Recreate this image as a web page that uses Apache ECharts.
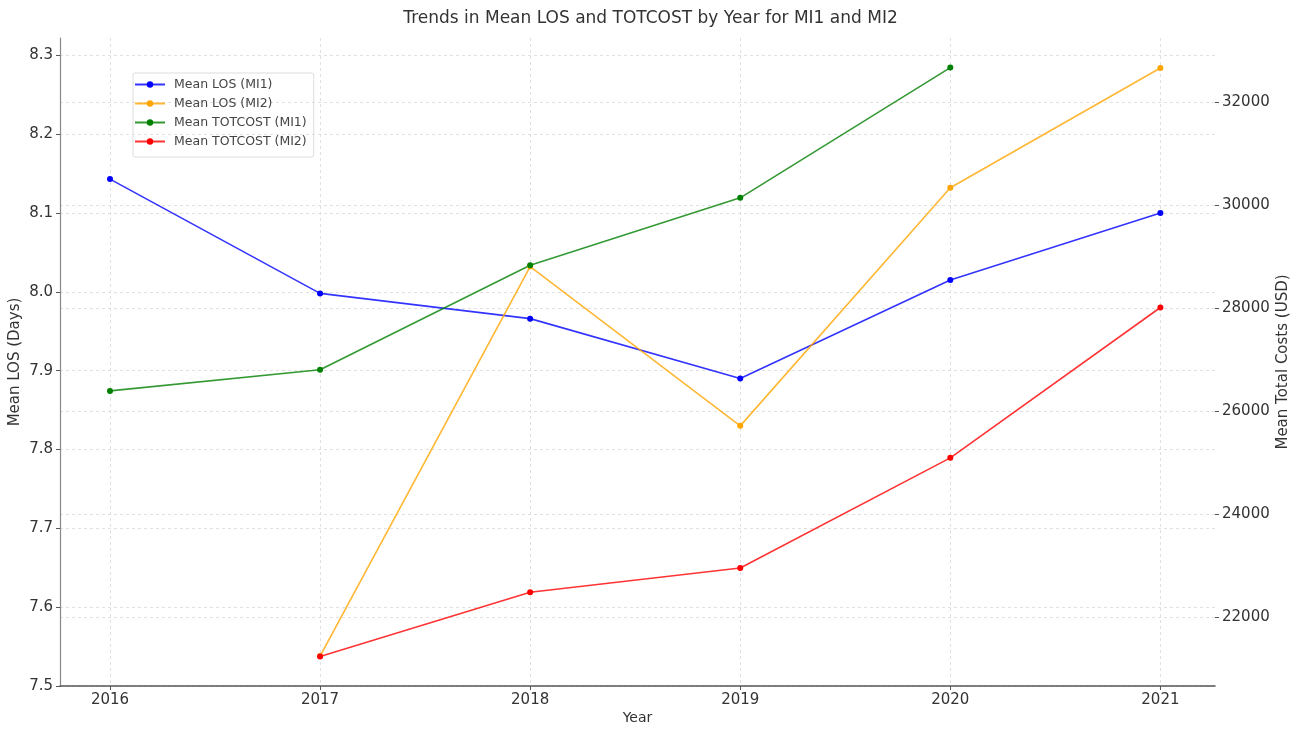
<!DOCTYPE html>
<html><head><meta charset="utf-8">
<script src="https://cdn.jsdelivr.net/npm/echarts@6/dist/echarts.min.js"></script>
<style>html,body{margin:0;padding:0;background:#fff}#c{width:1301px;height:735px}</style>
</head><body><div id="c"></div>
<script>
const years = [2016, 2017, 2018, 2019, 2020, 2021];
const losMI1 = [8.143, 7.998, 7.966, 7.890, 8.015, 8.100];
const losMI2 = [null, 7.538, 8.032, 7.830, 8.132, 8.284];
const costMI1 = [26400, 26810, 28840, 30150, 32680, null];
const costMI2 = [null, 21240, 22490, 22960, 25100, 28020];
const leftTicks = [7.5, 7.6, 7.7, 7.8, 7.9, 8.0, 8.1, 8.2, 8.3];
const rightTicks = [22000, 24000, 26000, 28000, 30000, 32000];

const pair = arr => years.map((y, i) => [y, arr[i]]).filter(p => p[1] !== null);
const font = 'DejaVu Sans';
const grid = {left: 60, right: 86, top: 38, bottom: 49, containLabel: false, outerBoundsMode: 'none'};
const split = {show: true, lineStyle: {color: '#d8d8d8', type: [3, 3], width: 0.8}};
function line(name, data, color, yIdx) {
  return {name, type: 'line', yAxisIndex: yIdx, data: pair(data), symbol: 'circle', symbolSize: 6,
    itemStyle: {color}, lineStyle: {color, width: 1.6, opacity: 0.8}, emphasis: {disabled: true}};
}
const chart = echarts.init(document.getElementById('c'), null, {renderer: 'canvas'});
chart.setOption({
  animation: false,
  backgroundColor: '#fff',
  textStyle: {fontFamily: font},
  title: {text: 'Trends in Mean LOS and TOTCOST by Year for MI1 and MI2', left: 'center', top: 5,
    textStyle: {fontFamily: font, fontSize: 17, fontWeight: 'normal', color: '#333'}},
  grid,
  legend: {left: 133, top: 73, orient: 'vertical', itemGap: 6, itemWidth: 30, itemHeight: 8,
    padding: [5, 7, 9, 1], borderColor: '#ddd', borderWidth: 1, borderRadius: 2,
    textStyle: {fontFamily: font, fontSize: 12.5, color: '#444', padding: [0, 0, 0, 4]},
    data: ['Mean LOS (MI1)', 'Mean LOS (MI2)', 'Mean TOTCOST (MI1)', 'Mean TOTCOST (MI2)']},
  xAxis: {type: 'value', min: 2015.762, max: 2021.26, name: 'Year', nameLocation: 'middle', nameGap: 25,
    nameMoveOverlap: false,
    nameTextStyle: {fontFamily: font, fontSize: 14, color: '#333'},
    axisLine: {show: true, onZero: false, lineStyle: {color: '#555', width: 1.5}},
    axisTick: {show: true, customValues: years, length: 4, lineStyle: {color: '#555'}},
    axisLabel: {customValues: years, formatter: v => String(v), fontFamily: font, fontSize: 15, color: '#333', margin: 7},
    splitLine: split},
  yAxis: [
    {type: 'value', min: 7.5, max: 8.322, position: 'left', name: 'Mean LOS (Days)', nameLocation: 'middle', nameGap: 37,
      nameMoveOverlap: false,
      nameTextStyle: {fontFamily: font, fontSize: 15, color: '#333'},
      axisLine: {show: true, lineStyle: {color: '#888', width: 1.2}},
      axisTick: {show: true, customValues: leftTicks, length: 4, lineStyle: {color: '#555'}},
      axisLabel: {customValues: leftTicks, formatter: v => v.toFixed(1), fontFamily: font, fontSize: 15, color: '#333', margin: 7},
      splitLine: split},
    {type: 'value', min: 20669, max: 33254, position: 'right', name: 'Mean Total Costs (USD)', nameLocation: 'middle', nameGap: 61,
      nameMoveOverlap: false,
      nameTextStyle: {fontFamily: font, fontSize: 15, color: '#333'},
      axisLine: {show: false},
      axisTick: {show: true, customValues: rightTicks, length: 4, lineStyle: {color: '#555'}},
      axisLabel: {customValues: rightTicks, formatter: v => String(v), fontFamily: font, fontSize: 15, color: '#333', margin: 7},
      splitLine: split}
  ],
  series: [
    line('Mean LOS (MI1)', losMI1, '#0000ff', 0),
    line('Mean LOS (MI2)', losMI2, '#ffa500', 0),
    line('Mean TOTCOST (MI1)', costMI1, '#008000', 1),
    line('Mean TOTCOST (MI2)', costMI2, '#ff0000', 1)
  ]
});
</script></body></html>
